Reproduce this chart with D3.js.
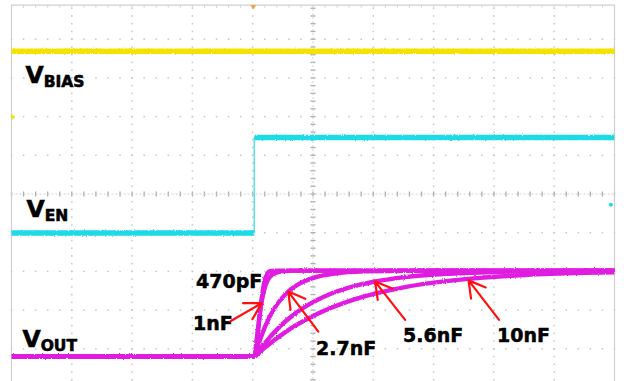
<!DOCTYPE html>
<html>
<head>
<meta charset="utf-8">
<script src="https://cdn.jsdelivr.net/npm/d3@7"></script>
<style>
  html, body { margin: 0; padding: 0; background: #fff; }
  svg { display: block; }
</style>
</head>
<body>
<svg id="scope" width="624" height="381"></svg>
<script>
// Scope capture: V_BIAS, V_EN and V_OUT start-up for several soft-start capacitors.
// Units: horizontal and vertical screen divisions (centre of screen = 0, 0).

const biasTime = [-5, 5];
const biasLevel = [3.69, 3.69];

const enTime = [-5, -0.975, -0.975, 5];
const enLevel = [-1.01, -1.01, 1.46, 1.46];

const outBaseTime = [-5, -0.963];
const outBaseLevel = [-4.199, -4.199];

const capLabels = ["470pF", "1nF", "2.7nF", "5.6nF", "10nF"];

const t470p = [-0.963, -0.914, -0.864, -0.814, -0.764, -0.714, -0.631, 5.0];
const v470p = [-4.199, -3.561, -2.865, -2.323, -2.065, -1.992, -1.979, -1.979];

const t1n = [-0.963, -0.914, -0.864, -0.814, -0.748, -0.681, -0.581, -0.415, -0.216, 5.0];
const v1n = [-4.199, -3.510, -2.890, -2.503, -2.219, -2.090, -2.021, -1.987, -1.979, -1.979];

const t2n7 = [-0.963, -0.880, -0.797, -0.631, -0.415, -0.216, 0.033, 0.365, 0.864, 1.528, 5.0];
const v2n7 = [-4.199, -3.775, -3.432, -2.932, -2.526, -2.310, -2.155, -2.054, -2.000, -1.982, -1.979];

const t5n6 = [-0.963, -0.797, -0.548, -0.216, 0.199, 0.698, 1.030, 1.528, 2.193, 3.023, 4.020, 5.0];
const v5n6 = [-4.199, -3.855, -3.422, -3.001, -2.643, -2.374, -2.261, -2.147, -2.065, -2.015, -1.992, -1.984];

const t10n = [-0.963, -0.797, -0.465, 0.033, 0.698, 1.528, 2.575, 3.522, 4.518, 5.0];
const v10n = [-4.199, -3.969, -3.574, -3.128, -2.717, -2.405, -2.194, -2.093, -2.039, -2.023];

// Annotation anchors (divisions): label baseline start, arrow tail and arrow tip on the curve
const noteLabel = ["470pF", "1nF", "2.7nF", "5.6nF", "10nF"];
const noteX = [-1.940, -1.990, 0.050, 1.493, 3.051];
const noteY = [-2.429, -3.514, -4.160, -3.824, -3.824];
const arrowTail = [null, [-1.370, -3.290], [0.088, -3.554], [1.528, -3.252], [3.086, -3.252]];
const arrowTip  = [null, [-0.852, -2.821], [-0.410, -2.521], [1.030, -2.263], [2.580, -2.232]];

// ---------------------------------------------------------------------------
const W = 624, H = 381;
const svg = d3.select("#scope");
const x = d3.scaleLinear().domain([-5, 5]).range([11.5, 614.5]);
const y = d3.scaleLinear().domain([-4, 4]).range([348.8, 39.2]);
const frameTop = 4.88;

const defs = svg.append("defs");
const f = defs.append("filter").attr("id", "fuzz")
  .attr("filterUnits", "userSpaceOnUse")
  .attr("x", 0).attr("y", 0).attr("width", W).attr("height", H);
f.append("feTurbulence").attr("type", "fractalNoise")
  .attr("baseFrequency", "0.9 0.6").attr("numOctaves", 1).attr("seed", 7).attr("result", "n");
f.append("feDisplacementMap").attr("in", "SourceGraphic").attr("in2", "n")
  .attr("scale", 2.6).attr("xChannelSelector", "R").attr("yChannelSelector", "G");

svg.append("rect").attr("width", W).attr("height", H).attr("fill", "#fff");

// graticule
const grid = svg.append("g");
const majorX = d3.range(-4, 5).filter(d => d !== 0);
const majorY = d3.range(-4, 5).filter(d => d !== 0);
const minorX = d3.range(-5, 5.001, 0.2);
const minorY = d3.range(-5, frameTop, 0.2);

majorX.forEach(mx => {
  grid.selectAll(null).data(minorY).enter().append("rect")
    .attr("x", x(mx) - 0.75).attr("y", d => y(d) - 0.75)
    .attr("width", 1.5).attr("height", 1.5).attr("fill", "#c6c6c6");
});
majorY.forEach(my => {
  grid.selectAll(null).data(minorX).enter().append("rect")
    .attr("x", d => x(d) - 0.75).attr("y", y(my) - 0.75)
    .attr("width", 1.5).attr("height", 1.5).attr("fill", "#c6c6c6");
});
// centre axes with minor ticks
grid.selectAll(null).data(minorY).enter().append("line")
  .attr("x1", x(0) - 2.5).attr("x2", x(0) + 2.5)
  .attr("y1", d => y(d)).attr("y2", d => y(d))
  .attr("stroke", "#ababab").attr("stroke-width", 1.3);
grid.append("line").attr("x1", x(0)).attr("x2", x(0)).attr("y1", y(frameTop)).attr("y2", H)
  .attr("stroke", "#d0d0d0").attr("stroke-width", 1).attr("stroke-dasharray", "2,2");
grid.selectAll(null).data(minorX).enter().append("line")
  .attr("y1", y(0) - 2.5).attr("y2", y(0) + 2.5)
  .attr("x1", d => x(d)).attr("x2", d => x(d))
  .attr("stroke", "#ababab").attr("stroke-width", 1.3);
grid.append("line").attr("y1", y(0)).attr("y2", y(0)).attr("x1", x(-5)).attr("x2", x(5))
  .attr("stroke", "#d0d0d0").attr("stroke-width", 1).attr("stroke-dasharray", "2,2");
// top edge ticks
grid.selectAll(null).data(minorX).enter().append("line")
  .attr("y1", y(frameTop)).attr("y2", y(frameTop) + 3)
  .attr("x1", d => x(d)).attr("x2", d => x(d))
  .attr("stroke", "#d8d8d8").attr("stroke-width", 1);
// frame
grid.append("path")
  .attr("d", `M${x(-5)},${H}V${y(frameTop)}H${x(5)}V${H}`)
  .attr("fill", "none").attr("stroke", "#cfcfcf").attr("stroke-width", 1.2);

const line = d3.line().x(d => x(d[0])).y(d => y(d[1])).curve(d3.curveMonotoneX);
const zip = (a, b) => a.map((v, i) => [v, b[i]]);

const traces = svg.append("g");
const COL_BIAS = "#f2e400", COL_EN = "#1fdae6", COL_OUT = "#e01ee0";

// V_BIAS
traces.append("path").datum(zip(biasTime, biasLevel)).attr("d", line)
  .attr("fill", "none").attr("stroke", COL_BIAS).attr("stroke-width", 5.5).attr("filter", "url(#fuzz)");

// V_EN (step: drawn with linear segments)
const stepLine = d3.line().x(d => x(d[0])).y(d => y(d[1]));
const en = zip(enTime, enLevel);
traces.append("path").datum(en.slice(0, 2)).attr("d", stepLine)
  .attr("fill", "none").attr("stroke", COL_EN).attr("stroke-width", 5.5).attr("filter", "url(#fuzz)");
traces.append("path").datum(en.slice(1, 3)).attr("d", stepLine)
  .attr("fill", "none").attr("stroke", COL_EN).attr("stroke-width", 1.4).attr("opacity", 0.8);
traces.append("path").datum(en.slice(2)).attr("d", stepLine)
  .attr("fill", "none").attr("stroke", COL_EN).attr("stroke-width", 5.5).attr("filter", "url(#fuzz)");

// V_OUT for each soft-start capacitor
const outCurves = [zip(t470p, v470p), zip(t1n, v1n), zip(t2n7, v2n7), zip(t5n6, v5n6), zip(t10n, v10n)];
traces.append("path").datum(zip(outBaseTime, outBaseLevel)).attr("d", stepLine)
  .attr("fill", "none").attr("stroke", COL_OUT).attr("stroke-width", 5).attr("filter", "url(#fuzz)");
traces.selectAll(null).data(outCurves).enter().append("path")
  .attr("d", line).attr("fill", "none").attr("stroke", COL_OUT)
  .attr("stroke-width", 4.4).attr("stroke-linejoin", "round").attr("filter", "url(#fuzz)");

// channel reference markers
svg.append("path").attr("d", `M${x(-5)},${y(1.99) - 3}l4,3l-4,3z`).attr("fill", COL_BIAS);
svg.append("path").attr("d", `M${x(-0.99) - 3},${y(frameTop)}l3,4l3,-4z`).attr("fill", "#f0a030");
svg.append("circle").attr("cx", x(4.94)).attr("cy", y(-0.28)).attr("r", 2).attr("fill", COL_EN);

// channel names
const font = "'DejaVu Sans', Verdana, sans-serif";
function channelLabel(sub, px, py) {
  const t = svg.append("text").attr("x", px).attr("y", py)
    .attr("font-family", font).attr("font-weight", "bold").attr("fill", "#000")
    .attr("stroke", "#000").attr("stroke-width", 0.6);
  t.append("tspan").attr("font-size", "23.5px").text("V");
  t.append("tspan").attr("font-size", "15.5px").attr("dy", 4).text(sub);
}
channelLabel("BIAS", x(-5) + 14, y(biasLevel[0]) + 32);
channelLabel("EN", x(-5) + 15, y(enLevel[0]) - 16);
channelLabel("OUT", x(-5) + 11, y(outBaseLevel[0]) - 10);

// capacitor annotations with red arrows
const notes = svg.append("g");
noteLabel.forEach((lab, i) => {
  notes.append("text").attr("x", x(noteX[i])).attr("y", y(noteY[i]))
    .attr("font-family", font).attr("font-weight", "bold").attr("font-size", "19px")
    .attr("fill", "#000").attr("stroke", "#000").attr("stroke-width", 0.5).text(lab);
  if (!arrowTip[i]) return;
  const tx = x(arrowTip[i][0]), ty = y(arrowTip[i][1]);
  const sx = x(arrowTail[i][0]), sy = y(arrowTail[i][1]);
  const ang = Math.atan2(sy - ty, sx - tx);
  const L = 18.5, a = Math.PI / 6;
  const h1 = [tx + L * Math.cos(ang - a), ty + L * Math.sin(ang - a)];
  const h2 = [tx + L * Math.cos(ang + a), ty + L * Math.sin(ang + a)];
  notes.append("path")
    .attr("d", `M${sx},${sy}L${tx},${ty}M${h1[0]},${h1[1]}L${tx},${ty}L${h2[0]},${h2[1]}`)
    .attr("fill", "none").attr("stroke", "#ff1010").attr("stroke-width", 2.2)
    .attr("stroke-linecap", "round").attr("stroke-linejoin", "round");
});
</script>
</body>
</html>
